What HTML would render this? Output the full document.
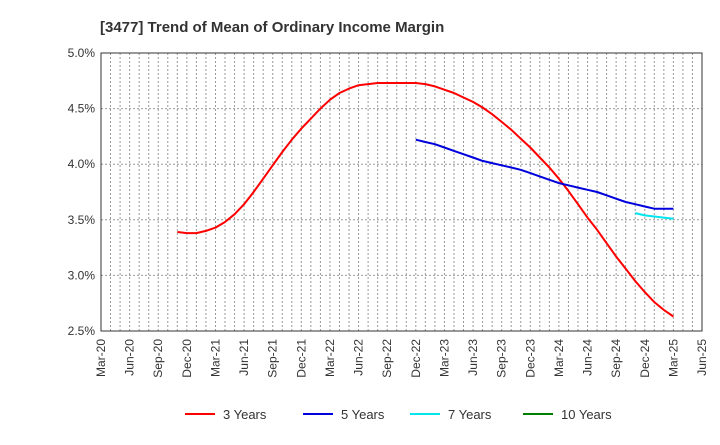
<!DOCTYPE html>
<html><head><meta charset="utf-8"><style>
body{margin:0;background:#fff;font-family:"Liberation Sans",Arial,sans-serif;}
</style></head><body>
<svg id="chart" width="720" height="440" xmlns="http://www.w3.org/2000/svg" font-family="Liberation Sans, Arial, sans-serif">
<text x="100" y="32" font-size="15" font-weight="bold" fill="#333">[3477]  Trend of Mean of Ordinary Income Margin</text>
<g id="grid"></g><g id="axes"></g><g id="series"></g><g id="legend"></g>
</svg>
<script>
const xTickLabels=["Mar-20","Jun-20","Sep-20","Dec-20","Mar-21","Jun-21","Sep-21","Dec-21","Mar-22","Jun-22","Sep-22","Dec-22","Mar-23","Jun-23","Sep-23","Dec-23","Mar-24","Jun-24","Sep-24","Dec-24","Mar-25","Jun-25"];
const yTicks=[2.5,3.0,3.5,4.0,4.5,5.0];
// month index from Mar-20 (0)
const s3Start=8;
const s3=[3.39,3.38,3.38,3.40,3.43,3.48,3.55,3.64,3.75,3.87,3.99,4.11,4.22,4.32,4.41,4.50,4.58,4.64,4.68,4.71,4.72,4.73,4.73,4.73,4.73,4.73,4.72,4.70,4.67,4.64,4.60,4.56,4.51,4.45,4.38,4.31,4.23,4.15,4.06,3.97,3.87,3.76,3.64,3.52,3.41,3.29,3.17,3.06,2.95,2.85,2.76,2.69,2.63];
const s5Start=33;
const s5=[4.22,4.20,4.18,4.15,4.12,4.09,4.06,4.03,4.01,3.99,3.97,3.95,3.92,3.89,3.86,3.83,3.81,3.79,3.77,3.75,3.72,3.69,3.66,3.64,3.62,3.60,3.60,3.60];
const s7Start=56;
const s7=[3.56,3.54,3.53,3.52,3.51];
const s10=[];
const L=101,R=702,T=53,B=331;
const xm=m=>L+m*(R-L)/63;
const yv=v=>B-(v-2.5)*(B-T)/2.5;
const NS="http://www.w3.org/2000/svg";
function mk(tag,attrs,parent,txt){const e=document.createElementNS(NS,tag);for(const k in attrs)e.setAttribute(k,attrs[k]);if(txt!==undefined)e.textContent=txt;document.getElementById(parent).appendChild(e);return e;}
for(let m=1;m<63;m++){const e=mk('line',{x1:xm(m),x2:xm(m),y1:T,y2:B,stroke:'#999','stroke-dasharray':'2,2','stroke-width':1},'grid');

}
yTicks.forEach(v=>{if(v>2.5&&v<5){const e=mk('line',{x1:L,x2:R,y1:yv(v),y2:yv(v),stroke:'#999','stroke-dasharray':'2,2'},'grid');

}
const t=mk('text',{x:L-6,y:yv(v)+4,'text-anchor':'end','font-size':12,fill:'#333'},'axes',v.toFixed(1)+'%');

});
const fr=mk('rect',{x:L,y:T,width:R-L,height:B-T,fill:'none',stroke:'#333'},'axes');


xTickLabels.forEach((s,i)=>{const x=xm(i*3);const t=mk('text',{x:x+4,y:B+8,'text-anchor':'end','font-size':12,fill:'#333',transform:`rotate(-90 ${x+4} ${B+8})`},'axes',s);

});
function line(arr,start,color,name){if(!arr.length)return;const p=arr.map((v,i)=>xm(start+i).toFixed(1)+','+yv(v).toFixed(1)).join(' ');
const e=mk('polyline',{points:p,fill:'none',stroke:color,'stroke-width':2,'stroke-linejoin':'round'},'series');

}
line(s3,s3Start,'#ff0000','series-3-years');
line(s5,s5Start,'#0000dd','series-5-years');
line(s7,s7Start,'#00e5ee','series-7-years');
line(s10,0,'#008000','series-10-years');
const leg=[["3 Years","#ff0000",185],["5 Years","#0000dd",303],["7 Years","#00e5ee",410],["10 Years","#008000",523]];
leg.forEach(([n,c,x])=>{const g=mk('g',{},'legend');
const l=document.createElementNS(NS,'line');l.setAttribute('x1',x);l.setAttribute('x2',x+30);l.setAttribute('y1',414);l.setAttribute('y2',414);l.setAttribute('stroke',c);l.setAttribute('stroke-width',2);g.appendChild(l);
const t=document.createElementNS(NS,'text');t.setAttribute('x',x+38);t.setAttribute('y',419);t.setAttribute('font-size',13);t.setAttribute('fill','#333');t.textContent=n;g.appendChild(t);});
</script>
</body></html>
